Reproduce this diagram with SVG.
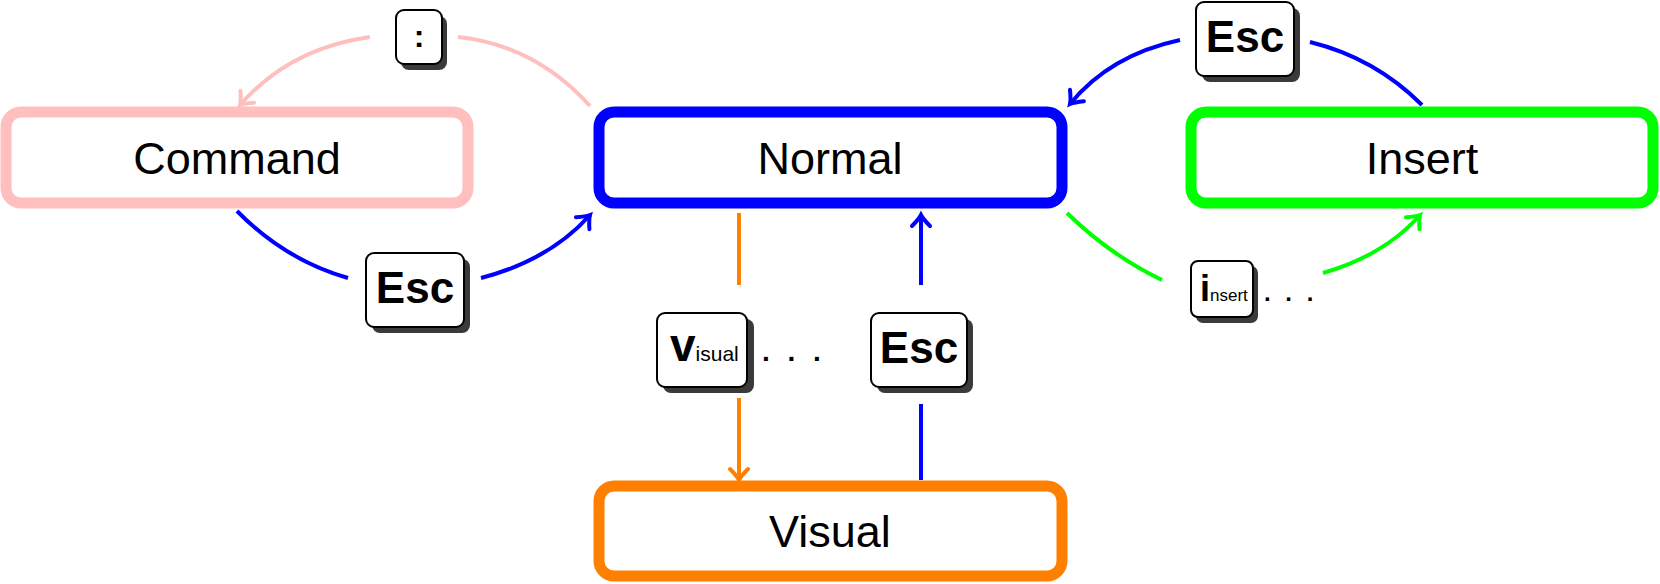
<svg xmlns="http://www.w3.org/2000/svg" width="1660" height="584" viewBox="0 0 1660 584">
<style>
.box{fill:#fff;stroke-width:11}
.lbl{font-family:"Liberation Sans",Arial,sans-serif;font-size:45px;text-anchor:middle;fill:#000}
.key{fill:#fff;stroke:#000;stroke-width:2}
.sh{fill:#3a3a3a}
.kt{font-family:"Liberation Sans",Arial,sans-serif;font-weight:bold;fill:#000}
.sm{font-family:"Liberation Sans",Arial,sans-serif;font-weight:normal;fill:#000}
.c{fill:none;stroke-width:4}
</style>
<defs>
<marker id="ab" markerUnits="userSpaceOnUse" markerWidth="30" markerHeight="30" viewBox="-15 -15 30 30" refX="0" refY="0" orient="auto"><path d="M-11,-9 Q-4,-2 0,0 Q-4,2 -11,9" fill="none" stroke="#0000ff" stroke-width="4" stroke-linecap="round"/></marker>
<marker id="ap" markerUnits="userSpaceOnUse" markerWidth="30" markerHeight="30" viewBox="-15 -15 30 30" refX="0" refY="0" orient="auto"><path d="M-11,-9 Q-4,-2 0,0 Q-4,2 -11,9" fill="none" stroke="#ffbfbf" stroke-width="4" stroke-linecap="round"/></marker>
<marker id="ag" markerUnits="userSpaceOnUse" markerWidth="30" markerHeight="30" viewBox="-15 -15 30 30" refX="0" refY="0" orient="auto"><path d="M-11,-9 Q-4,-2 0,0 Q-4,2 -11,9" fill="none" stroke="#00ff00" stroke-width="4" stroke-linecap="round"/></marker>
<marker id="ao" markerUnits="userSpaceOnUse" markerWidth="30" markerHeight="30" viewBox="-15 -15 30 30" refX="0" refY="0" orient="auto"><path d="M-11,-9 Q-4,-2 0,0 Q-4,2 -11,9" fill="none" stroke="#ff8000" stroke-width="4" stroke-linecap="round"/></marker>
</defs>

<g id="connectors">
<path class="c" stroke="#ffbfbf" d="M590,106 Q535,45 458,37"/>
<path class="c" stroke="#ffbfbf" marker-end="url(#ap)" d="M370,37 Q290,48 240,105"/>
<path class="c" stroke="#0000ff" d="M1422,105 Q1375,58 1310,42"/>
<path class="c" stroke="#0000ff" marker-end="url(#ab)" d="M1180,40 Q1110,55 1070,104"/>
<path class="c" stroke="#0000ff" d="M237,211 Q285,260 348,278"/>
<path class="c" stroke="#0000ff" marker-end="url(#ab)" d="M481,278 Q550,260 590,215"/>
<path class="c" stroke="#00ff00" d="M1067,213 Q1110,255 1162,280"/>
<path class="c" stroke="#00ff00" marker-end="url(#ag)" d="M1323,273 Q1385,255 1420,215"/>
<path class="c" stroke="#ff8000" d="M739,213 V285"/>
<path class="c" stroke="#ff8000" marker-end="url(#ao)" d="M739,398 V480"/>
<path class="c" stroke="#0000ff" d="M921,480 V404"/>
<path class="c" stroke="#0000ff" marker-end="url(#ab)" d="M921,285 V215"/>
</g>

<g id="command"><rect class="box" stroke="#ffbfbf" x="6" y="112" width="462" height="91" rx="15"/><text class="lbl" x="237" y="174">Command</text></g>
<g id="normal"><rect class="box" stroke="#0000ff" x="599" y="112" width="463" height="91" rx="15"/><text class="lbl" x="830" y="174">Normal</text></g>
<g id="insert"><rect class="box" stroke="#00ff00" x="1191" y="112" width="462" height="91" rx="15"/><text class="lbl" x="1422" y="174">Insert</text></g>
<g id="visual"><rect class="box" stroke="#ff8000" x="599" y="486" width="463" height="90" rx="15"/><text class="lbl" x="830" y="547">Visual</text></g>

<g id="key-colon"><rect class="sh" x="401" y="16" width="46" height="54" rx="8"/><rect class="key" x="396" y="10" width="46" height="54" rx="8"/><text class="kt" x="419" y="47" font-size="32" text-anchor="middle">:</text></g>
<g id="key-esc-top"><rect class="sh" x="1202" y="8" width="98" height="74" rx="8"/><rect class="key" x="1196" y="2" width="98" height="74" rx="8"/><text class="kt" x="1245" y="52" font-size="44" text-anchor="middle">Esc</text></g>
<g id="key-esc-left"><rect class="sh" x="372" y="259" width="98" height="74" rx="8"/><rect class="key" x="366" y="253" width="98" height="74" rx="8"/><text class="kt" x="415" y="303" font-size="44" text-anchor="middle">Esc</text></g>
<g id="key-esc-mid"><rect class="sh" x="877" y="319" width="96" height="74" rx="8"/><rect class="key" x="871" y="313" width="96" height="74" rx="8"/><text class="kt" x="919" y="363" font-size="44" text-anchor="middle">Esc</text></g>
<g id="key-v"><rect class="sh" x="663" y="319" width="91" height="74" rx="8"/><rect class="key" x="657" y="313" width="90" height="74" rx="8"/><text class="kt" x="670" y="361" font-size="46">v<tspan class="sm" font-size="21">isual</tspan></text><text class="kt" x="762" y="361" font-size="28" letter-spacing="5">. . .</text></g>
<g id="key-i"><rect class="sh" x="1196" y="266" width="62" height="57" rx="7"/><rect class="key" x="1191" y="261" width="62" height="56" rx="7"/><text class="kt" x="1200" y="301" font-size="36">i<tspan class="sm" font-size="17">nsert</tspan></text><text class="kt" x="1264" y="301" font-size="24" letter-spacing="4">. . .</text></g>
</svg>
